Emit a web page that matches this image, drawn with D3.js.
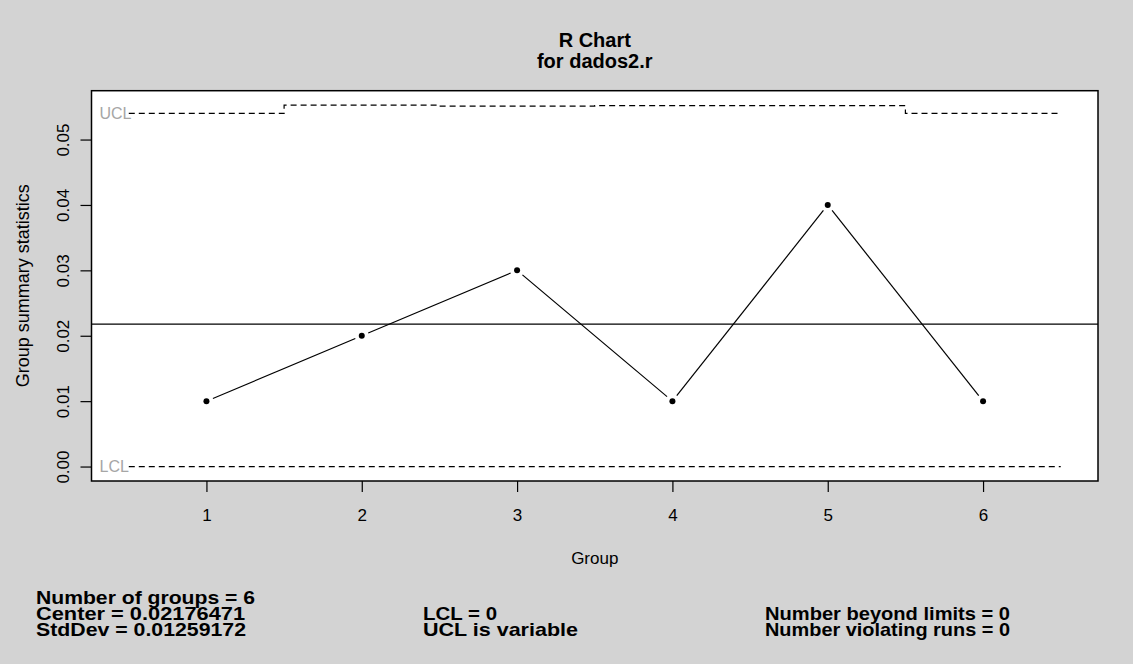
<!DOCTYPE html>
<html>
<head>
<meta charset="utf-8">
<script src="https://cdn.jsdelivr.net/npm/d3@7"></script>
<style>
  html, body { margin: 0; padding: 0; background: #d3d3d3; }
  svg text { font-family: "Liberation Sans", Arial, sans-serif; }
</style>
</head>
<body>
<svg id="chart" width="1133" height="664"></svg>
<script>
// ---- data ----
const groups = [1, 2, 3, 4, 5, 6];
const rValues = [0.01, 0.02, 0.03, 0.01, 0.04, 0.01];
const uclValues = [0.05401, 0.05526, 0.05511, 0.05518, 0.05518, 0.05401];
const lclValues = [0, 0, 0, 0, 0, 0];
const centerValue = 0.02176471;
const xTicks = [1, 2, 3, 4, 5, 6];
const yTicks = [0.00, 0.01, 0.02, 0.03, 0.04, 0.05];
const yTickLabels = ["0.00", "0.01", "0.02", "0.03", "0.04", "0.05"];
const titleLines = ["R Chart", "for dados2.r"];
const statsCol1 = ["Number of groups = 6", "Center = 0.02176471", "StdDev = 0.01259172"];
const statsCol2 = ["", "LCL = 0", "UCL is variable"];
const statsCol3 = ["", "Number beyond limits = 0", "Number violating runs = 0"];

// ---- layout ----
const W = 1133, H = 664;
const plot = { left: 91.5, right: 1098, top: 90.7, bottom: 481 };
const FONT = "'Liberation Sans', Arial, sans-serif";

const svg = d3.select("#chart");
svg.append("rect").attr("x", 0).attr("y", 0).attr("width", W).attr("height", H).attr("fill", "#d3d3d3");

const x = d3.scaleLinear().domain([0.26, 6.74]).range([plot.left, plot.right]);
const yMax = d3.max(uclValues);
const yPad = (yMax - 0) * 0.04;
const y = d3.scaleLinear().domain([0 - yPad, yMax + yPad]).range([plot.bottom, plot.top]);

// plot panel
svg.append("rect")
  .attr("x", plot.left).attr("y", plot.top)
  .attr("width", plot.right - plot.left).attr("height", plot.bottom - plot.top)
  .attr("fill", "#ffffff");

// center line
svg.append("line")
  .attr("x1", plot.left).attr("x2", plot.right)
  .attr("y1", y(centerValue)).attr("y2", y(centerValue))
  .attr("stroke", "#000").attr("stroke-width", 1.2);

// step limit lines
function stepPoints(vals) {
  const pts = [];
  groups.forEach((g, i) => { pts.push([g - 0.5, vals[i]]); pts.push([g + 0.5, vals[i]]); });
  return pts;
}
const lineGen = d3.line().x(d => x(d[0])).y(d => y(d[1]));
[uclValues, lclValues].forEach(vals => {
  svg.append("path")
    .attr("d", lineGen(stepPoints(vals)))
    .attr("fill", "none").attr("stroke", "#000").attr("stroke-width", 1.2)
    .attr("stroke-dasharray", "6,4");
});

// limit labels
svg.append("text").attr("x", plot.left + 8).attr("y", y(uclValues[0]))
  .attr("dy", "0.35em").attr("font-size", 16).attr("fill", "#a6a6a6").text("UCL");
svg.append("text").attr("x", plot.left + 8).attr("y", y(lclValues[0]))
  .attr("dy", "0.35em").attr("font-size", 16).attr("fill", "#a6a6a6").text("LCL");

// data line with gaps near points (R type "b")
const gap = 7;
for (let i = 0; i < groups.length - 1; i++) {
  const x1 = x(groups[i]), y1 = y(rValues[i]);
  const x2 = x(groups[i + 1]), y2 = y(rValues[i + 1]);
  const len = Math.hypot(x2 - x1, y2 - y1);
  const ux = (x2 - x1) / len, uy = (y2 - y1) / len;
  svg.append("line")
    .attr("x1", x1 + ux * gap).attr("y1", y1 + uy * gap)
    .attr("x2", x2 - ux * gap).attr("y2", y2 - uy * gap)
    .attr("stroke", "#000").attr("stroke-width", 1.2);
}
svg.selectAll("circle.pt").data(groups).enter().append("circle")
  .attr("class", "pt")
  .attr("cx", (d) => x(d)).attr("cy", (d, i) => y(rValues[i]))
  .attr("r", 3).attr("fill", "#000");

// frame
svg.append("rect")
  .attr("x", plot.left).attr("y", plot.top)
  .attr("width", plot.right - plot.left).attr("height", plot.bottom - plot.top)
  .attr("fill", "none").attr("stroke", "#000").attr("stroke-width", 1.5);

// axes
const xAxis = d3.axisBottom(x).tickValues(xTicks).tickSize(11).tickPadding(17).tickFormat(d3.format("d"));
const gx = svg.append("g").attr("transform", `translate(0,${plot.bottom})`).call(xAxis);
gx.select(".domain").remove();
gx.selectAll("text").attr("font-size", 17).attr("fill", "#000").style("font-family", FONT);
gx.selectAll("line").attr("stroke", "#000").attr("stroke-width", 1.2);

const yAxis = d3.axisLeft(y).tickValues(yTicks).tickSize(11).tickFormat((d, i) => yTickLabels[i]);
const gy = svg.append("g").attr("transform", `translate(${plot.left},0)`).call(yAxis);
gy.select(".domain").remove();
gy.selectAll("line").attr("stroke", "#000").attr("stroke-width", 1.2);
gy.selectAll("text")
  .attr("font-size", 17).attr("fill", "#000")
  .style("font-family", FONT)
  .attr("x", 0).attr("y", 0)
  .attr("text-anchor", "middle")
  .attr("transform", "translate(-28,0) rotate(-90)")
  .attr("dy", "0.35em");

// axis titles
svg.append("text").attr("x", (plot.left + plot.right) / 2).attr("y", 558)
  .attr("dy", "0.35em").attr("text-anchor", "middle").attr("font-size", 17).text("Group");
svg.append("text")
  .attr("transform", `translate(23,${(plot.top + plot.bottom) / 2}) rotate(-90)`)
  .attr("dy", "0.35em").attr("text-anchor", "middle").attr("font-size", 18).text("Group summary statistics");

// title
titleLines.forEach((t, i) => {
  svg.append("text").attr("x", (plot.left + plot.right) / 2).attr("y", 47 + i * 21)
    .attr("text-anchor", "middle")
    .attr("font-size", 20).attr("font-weight", "bold").text(t);
});

// stats
const statsWidths = [
  [219, 209, 210],
  [0, 74, 155],
  [0, 245, 245]
];
const colX = [36, 423, 765];
[statsCol1, statsCol2, statsCol3].forEach((col, c) => {
  col.forEach((t, r) => {
    if (!t) return;
    svg.append("text").attr("x", colX[c]).attr("y", 604 + r * 16)
      .attr("font-size", 19).attr("font-weight", "bold")
      .attr("textLength", statsWidths[c][r]).attr("lengthAdjust", "spacingAndGlyphs")
      .text(t);
  });
});
</script>
</body>
</html>
